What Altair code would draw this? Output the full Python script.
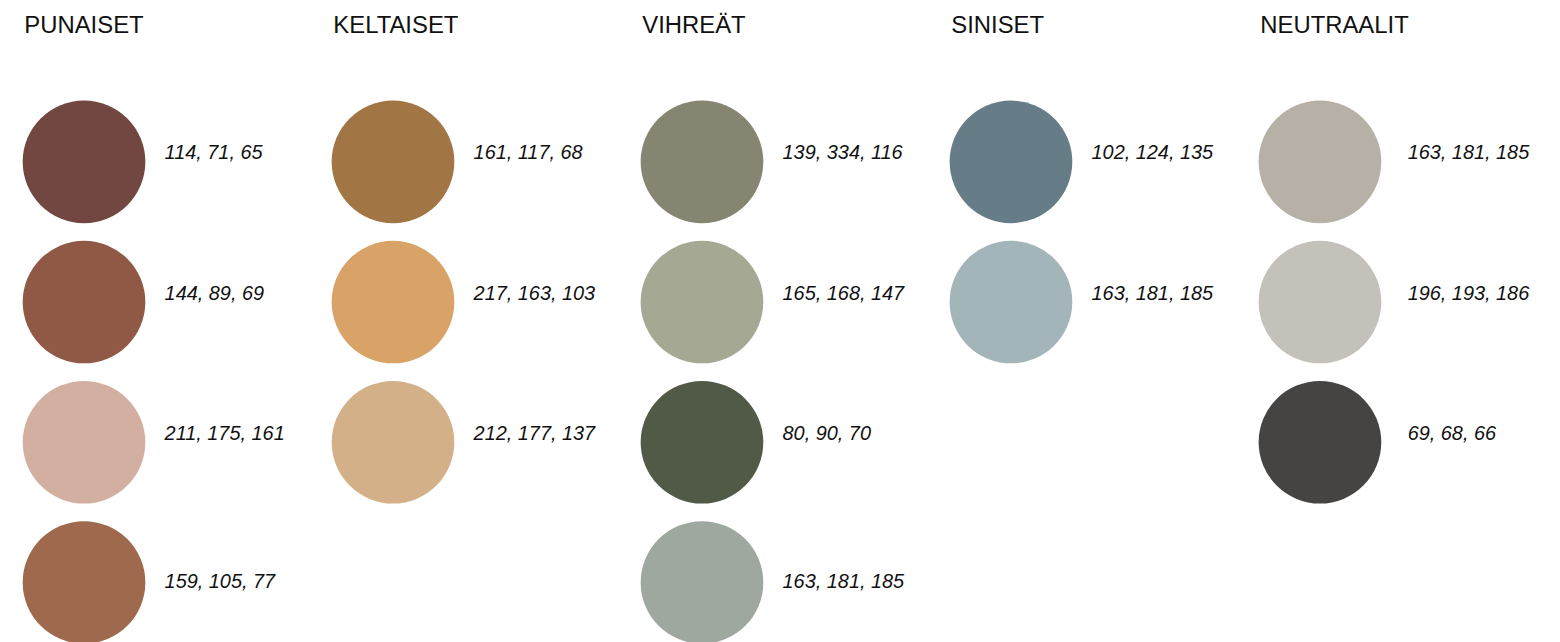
import altair as alt
import pandas as pd

categories = ["PUNAISET", "KELTAISET", "VIHREÄT", "SINISET", "NEUTRAALIT"]

punaiset_labels = ["114, 71, 65", "144, 89, 69", "211, 175, 161", "159, 105, 77"]
punaiset_colors = ["#724741", "#8F5945", "#D3AFA1", "#9E694D"]

keltaiset_labels = ["161, 117, 68", "217, 163, 103", "212, 177, 137"]
keltaiset_colors = ["#A17544", "#D9A367", "#D4B089"]

vihreat_labels = ["139, 334, 116", "165, 168, 147", "80, 90, 70", "163, 181, 185"]
vihreat_colors = ["#858571", "#A5A893", "#505A46", "#9EA89F"]

siniset_labels = ["102, 124, 135", "163, 181, 185"]
siniset_colors = ["#667C87", "#A3B5B9"]

neutraalit_labels = ["163, 181, 185", "196, 193, 186", "69, 68, 66"]
neutraalit_colors = ["#B7B0A6", "#C4C1BA", "#454442"]

groups = [
    (punaiset_labels, punaiset_colors),
    (keltaiset_labels, keltaiset_colors),
    (vihreat_labels, vihreat_colors),
    (siniset_labels, siniset_colors),
    (neutraalit_labels, neutraalit_colors),
]

rows = []
for ci, (labels, colors) in enumerate(groups):
    for ri, (lab, colr) in enumerate(zip(labels, colors)):
        rows.append({"col": ci, "row": ri, "label": lab, "color": colr, "cat": categories[ci]})
df = pd.DataFrame(rows)
hdr = pd.DataFrame({"col": list(range(len(categories))), "cat": categories})

xscale = alt.Scale(domain=[-0.246, 4.751], nice=False, zero=False)
yscale = alt.Scale(domain=[-1.0854, 3.413], nice=False, zero=False, reverse=True)
FONT = "Liberation Sans"

circles = alt.Chart(df).mark_circle(size=15200, opacity=1).encode(
    x=alt.X("col:Q", scale=xscale, axis=None),
    y=alt.Y("row:Q", scale=yscale, axis=None),
    color=alt.Color("color:N", scale=None),
)

labels = alt.Chart(df).transform_calculate(
    ly="datum.row < 3 ? datum.row - 0.06 : datum.row",
    lx="datum.col == 4 ? datum.col + 0.023 : datum.col",
).mark_text(
    align="left", baseline="middle", dx=81, font=FONT, fontSize=20,
    fontStyle="italic", color="#111111",
).encode(
    x=alt.X("lx:Q", scale=xscale, axis=None),
    y=alt.Y("ly:Q", scale=yscale, axis=None),
    text="label:N",
)

titles = alt.Chart(hdr).mark_text(
    align="left", baseline="middle", dx=-60, dy=4, font=FONT, fontSize=24,
    color="#111111",
).encode(
    x=alt.X("col:Q", scale=xscale, axis=None),
    y=alt.datum(-1, scale=yscale),
    text="cat:N",
)

chart = alt.layer(circles, labels, titles).properties(
    width=1552, height=634, padding=0, autosize=alt.AutoSizeParams(type="none"),
    background="white",
).configure_view(stroke=None)

chart.save("out.html", embed_options={"renderer": "svg", "actions": False})
